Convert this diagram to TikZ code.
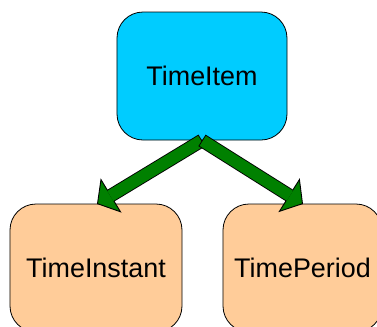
\documentclass[tikz,border=0pt]{standalone}
\usepackage{fontspec}
\setmainfont{Liberation Sans}
\usetikzlibrary{arrows.meta}
\definecolor{ciano}{HTML}{00CCFF}
\definecolor{pesca}{HTML}{FFCC99}
\definecolor{verde}{HTML}{008000}
\begin{document}
\begin{tikzpicture}[x=1bp, y=-1bp,
	blocco/.style = {rectangle, rounded corners=26bp, draw=black,
		line width=0.8bp, minimum width=172bp, minimum height=128bp,
		font=\fontsize{27}{32}\selectfont, inner sep=0pt},
	bordo/.style  = {draw=black, line width=13.6bp,
		-{Triangle[length=16.5bp, width=40bp, fill=verde, line width=0.9bp]}},
	fusto/.style  = {draw=verde, line width=11.8bp,
		shorten >=15.5bp, shorten <=0.9bp},
	]
	
	%% ── Riquadro ─────────────────────────────────────────────────────────────
	\useasboundingbox (0,0) rectangle (377,327);
	
	%% ── Parametri geometrici ─────────────────────────────────────────────────
	\def\yT{76}      % centro riquadro superiore
	\def\yB{268}     % centro riquadri inferiori
	\def\yP{204}     % quota punte frecce
	
	%% ── Nodi ─────────────────────────────────────────────────────────────────
	\node[blocco, fill=ciano, minimum width=170bp](item)at(202,\yT){TimeItem};
	\node[blocco, fill=pesca](instant)at(96,\yB){TimeInstant};
	\node[blocco, fill=pesca, minimum width=159bp](period)at(302.5,\yB){TimePeriod};
	
	%% ── Punte ────────────────────────────────────────────────────────────────
	\coordinate(pI)at(97,\yP);
	\coordinate(pP)at(303,\yP);
	
	%% ── Frecce ───────────────────────────────────────────────────────────────
	\draw[bordo](item.south)--(pI);
	\draw[fusto](item.south)--(pI);
	\draw[bordo](item.south)--(pP);
	\draw[fusto](item.south)--(pP);
	
\end{tikzpicture}
\end{document}
